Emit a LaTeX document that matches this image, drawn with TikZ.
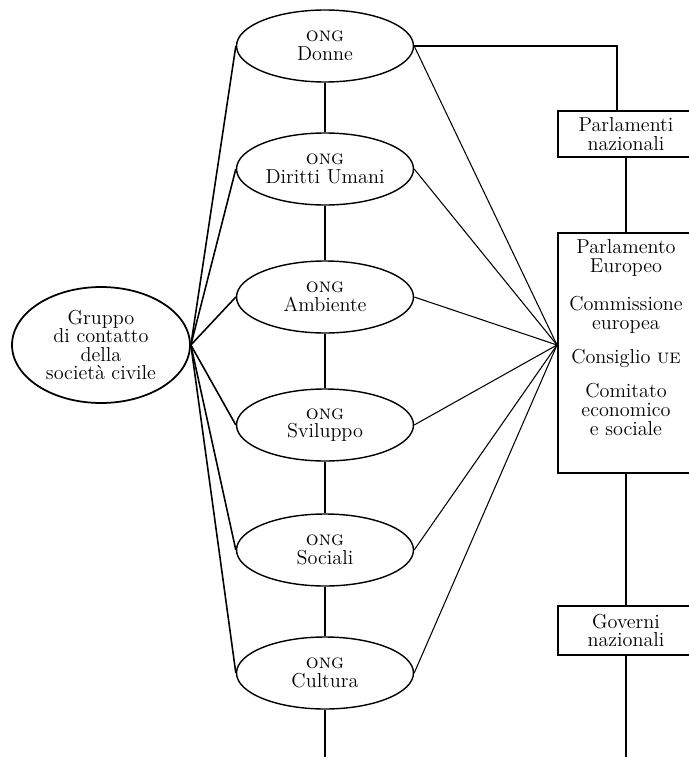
\documentclass[tikz,border=0pt]{standalone}
\usepackage{fontspec}
\usepackage{tikz}
\usetikzlibrary{shapes.geometric,positioning}

\tikzset{
  testo/.style={font=\fontsize{11.5}{10.6}\selectfont, align=center},
  gruppo/.style={testo, draw, ellipse, line width=1pt, minimum width=3.56cm, minimum height=2.32cm, inner sep=0pt},
  ong/.style={testo, draw, ellipse, line width=0.8pt, minimum width=3.54cm, minimum height=1.44cm, inner sep=0pt},
  istituz/.style={testo, draw, rectangle, line width=0.6pt, minimum width=2.72cm, inner sep=0pt},
  legame/.style={line width=0.6pt},
  raggio/.style={line width=0.9pt}
}

\begin{document}
\begin{tikzpicture}[x=0.02cm, y=-0.02cm]
\useasboundingbox (0,0) rectangle (689,757);
\clip (0,0) rectangle (689,757);

% Gruppo di contatto
\node[gruppo] (gruppo) at (101,345) {Gruppo\\di contatto\\della\\società civile};

% ONG
\node[ong] (donne) at (325,46) {\textsc{ong}\\Donne};
\node[ong] (diritti) at (325,169) {\textsc{ong}\\Diritti Umani};
\node[ong] (ambiente) at (325,297) {\textsc{ong}\\Ambiente};
\node[ong] (sviluppo) at (325,425) {\textsc{ong}\\Sviluppo};
\node[ong] (sociali) at (325,550) {\textsc{ong}\\Sociali};
\node[ong] (cultura) at (325,673) {\textsc{ong}\\Cultura};

% Istituzioni
\node[istituz, minimum height=0.92cm] (parl) at (626,134) {Parlamenti\\nazionali};
\node[istituz, minimum height=4.8cm] (ue) at (626,353) {};
\node[testo, inner sep=0pt, below=4pt of ue.north] (uetesto)
  {Parlamento\\Europeo\\[11pt]Commissione\\europea\\[9pt]Consiglio \textsc{ue}\\[9pt]Comitato\\economico\\e sociale};
\node[istituz, minimum height=0.98cm] (gov) at (626,630.5) {Governi\\nazionali};

\coordinate (hub) at (557,345);
\coordinate (angolo) at (617,46);
\coordinate (fondoong) at (325,757);
\coordinate (fondogov) at (626,757);

% Dal gruppo alle ONG
\draw[raggio] (gruppo.east) -- (donne.west);
\draw[raggio] (gruppo.east) -- (diritti.west);
\draw[raggio] (gruppo.east) -- (ambiente.west);
\draw[raggio] (gruppo.east) -- (sviluppo.west);
\draw[raggio] (gruppo.east) -- (sociali.west);
\draw[raggio] (gruppo.east) -- (cultura.west);

% Dalle ONG alle istituzioni UE
\draw[legame] (donne.east) -- (hub);
\draw[legame] (diritti.east) -- (hub);
\draw[legame] (ambiente.east) -- (hub);
\draw[legame] (sviluppo.east) -- (hub);
\draw[legame] (sociali.east) -- (hub);
\draw[legame] (cultura.east) -- (hub);

% Catena delle ONG
\draw[legame] (donne) -- (diritti);
\draw[legame] (diritti) -- (ambiente);
\draw[legame] (ambiente) -- (sviluppo);
\draw[legame] (sviluppo) -- (sociali);
\draw[legame] (sociali) -- (cultura);
\draw[legame] (cultura) -- (fondoong);

% Catena delle istituzioni
\draw[legame] (donne.east) -- (angolo) -- (angolo |- parl.north);
\draw[legame] (parl) -- (ue);
\draw[legame] (ue) -- (gov);
\draw[legame] (gov) -- (fondogov);
\end{tikzpicture}
\end{document}
